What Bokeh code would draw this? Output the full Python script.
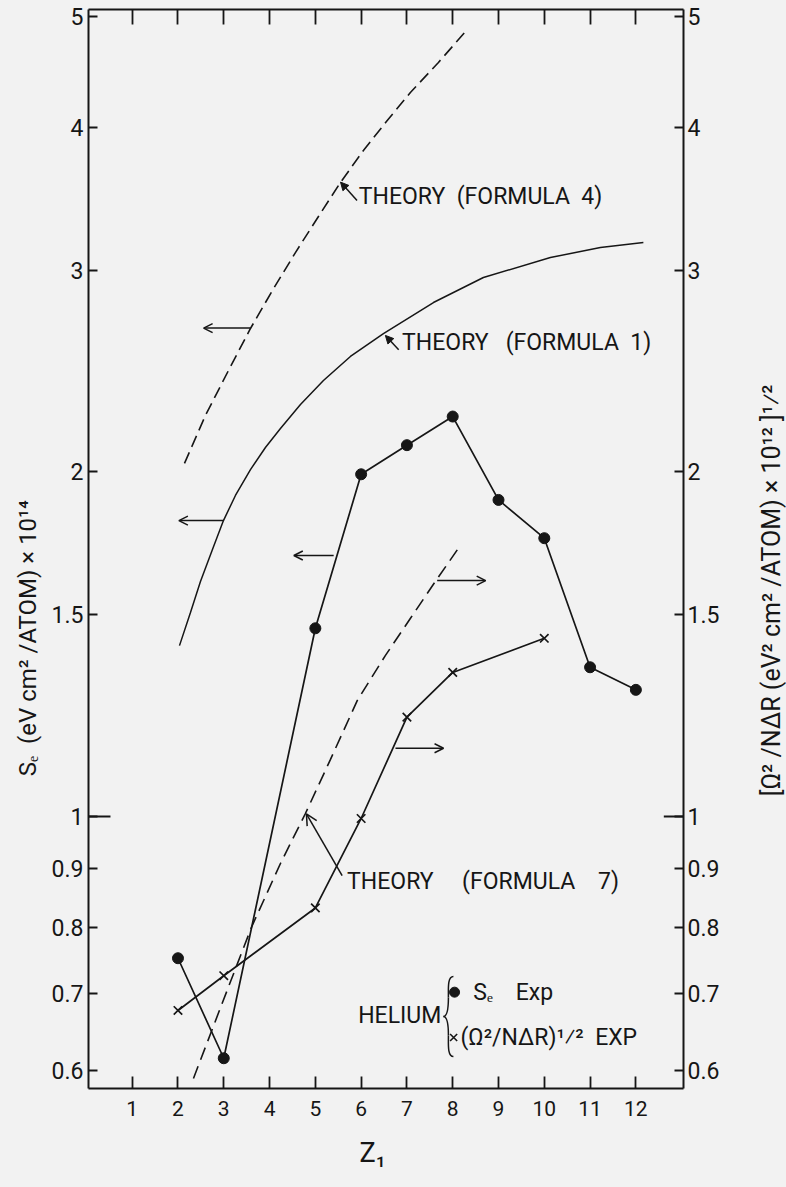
import math
from bokeh.plotting import figure
from bokeh.layouts import row
from bokeh.models import (Range1d, LinearAxis, LogAxis, FixedTicker, Label,
                          Arrow, OpenHead, NormalHead)
from bokeh.embed import file_html
from bokeh.resources import INLINE

FONT = "Roboto"
INK = "#161616"
BG = "#f2f2f2"
NB = "\u00a0"

# ---------------- data ----------------
z_se = [2, 3, 5, 6, 7, 8, 9, 10, 11, 12]
se_exp = [0.752, 0.615, 1.46, 1.99, 2.11, 2.235, 1.89, 1.75, 1.35, 1.29]

z_om = [2, 3, 5, 6, 7, 8, 10]
om_exp = [0.677, 0.726, 0.832, 0.996, 1.221, 1.336, 1.431]

# theory (formula 4), dashed
f4_z = [2.142, 2.600, 3.103, 3.583, 4.063, 4.565, 5.068, 5.548, 6.050, 6.552, 7.076, 7.688, 8.299]
f4_y = [2.034, 2.240, 2.452, 2.668, 2.880, 3.108, 3.342, 3.578, 3.816, 4.045, 4.288, 4.555, 4.857]

# theory (formula 1), solid
f1_z = [2.033, 2.273, 2.491, 2.753, 2.993, 3.255, 3.583, 3.910, 4.238, 4.675, 5.177,
        5.766, 6.487, 7.579, 8.670, 10.133, 11.225, 12.164]
f1_y = [1.410, 1.507, 1.604, 1.711, 1.813, 1.907, 2.009, 2.100, 2.182, 2.290, 2.403,
        2.522, 2.641, 2.811, 2.956, 3.077, 3.140, 3.171]

# theory (formula 7), dashed
f7_z = [2.338, 2.972, 3.603, 4.238, 4.783, 5.328, 5.917, 6.528, 7.074, 7.620, 8.166]
f7_y = [0.5905, 0.688, 0.800, 0.9098, 1.006, 1.121, 1.263, 1.382, 1.489, 1.604, 1.7245]

y_ticks = [0.6, 0.7, 0.8, 0.9, 1, 1.5, 2, 3, 4, 5]
y_tick_labels = ["0.6", "0.7", "0.8", "0.9", "1", "1.5", "2", "3", "4", "5"]
x_ticks = list(range(1, 13))

# ---------------- main figure ----------------
p = figure(frame_width=595, frame_height=1079,
           min_border_left=88, min_border_right=62,
           min_border_top=9, min_border_bottom=99,
           x_range=Range1d(0.046, 13.04), y_range=Range1d(0.5787, 5.067),
           y_axis_type="log", output_backend="svg", toolbar_location=None)
p.background_fill_color = BG
p.border_fill_color = BG
p.outline_line_color = None
p.xgrid.visible = False
p.ygrid.visible = False

overrides = {t: l for t, l in zip(y_ticks, y_tick_labels)}


def style_axis(ax, tick_len, font_size, standoff):
    ax.axis_line_color = INK
    ax.axis_line_width = 2
    ax.major_tick_line_color = INK
    ax.major_tick_line_width = 1.8
    ax.major_tick_in = tick_len
    ax.major_tick_out = 0
    ax.minor_tick_line_color = None
    ax.major_label_text_font = FONT
    ax.major_label_text_font_size = font_size
    ax.major_label_text_color = INK
    ax.major_label_standoff = standoff
    ax.axis_label_text_font = FONT
    ax.axis_label_text_font_style = "normal"
    ax.axis_label_text_color = INK


# left log axis
ly = p.yaxis[0]
ly.ticker = FixedTicker(ticks=y_ticks)
ly.major_label_overrides = overrides
style_axis(ly, 9, "23px", 5)
ly.axis_label = ("S\u2091" + NB * 2 + "(eV" + NB + "cm\u00b2" + NB + "/ATOM)" + NB
                 + "\u00d7" + NB + "10\u00b9\u2074" + NB * 30)
ly.axis_label_text_font_size = "24px"
ly.axis_label_standoff = 7

# right log axis (its title is drawn in the side strip)
ry = LogAxis(ticker=FixedTicker(ticks=y_ticks), major_label_overrides=overrides)
style_axis(ry, 9, "23px", 4)
p.add_layout(ry, "right")

# bottom axis
bx = p.xaxis[0]
bx.ticker = FixedTicker(ticks=x_ticks)
style_axis(bx, 12, "21px", 12)
bx.axis_label = "Z\u2081" + NB * 4
bx.axis_label_text_font_size = "27px"
bx.axis_label_standoff = 18

# top axis (ticks only)
tx = LinearAxis(ticker=FixedTicker(ticks=x_ticks))
style_axis(tx, 15, "0px", 0)
tx.major_label_text_alpha = 0
p.add_layout(tx, "above")

# longer ticks at 1 on both y axes
p.segment(x0=[0.046, 12.61], y0=[1, 1], x1=[0.526, 13.04], y1=[1, 1],
          line_color=INK, line_width=1.8)

# ---------------- curves ----------------
p.line(f4_z, f4_y, line_color=INK, line_width=1.6, line_dash="12 6")
p.line(f1_z, f1_y, line_color=INK, line_width=1.5)
p.line(f7_z, f7_y, line_color=INK, line_width=1.6, line_dash="13 7")

p.line(z_se, se_exp, line_color=INK, line_width=1.7)
p.scatter(z_se, se_exp, marker="circle", size=11, fill_color=INK, line_color=INK)

p.line(z_om, om_exp, line_color=INK, line_width=1.7)
p.scatter(z_om, om_exp, marker="x", size=12, line_color=INK, line_width=1.7)


# ---------------- arrows ----------------
def arrow(x0, y0, x1, y1, head="open", size=9):
    if head == "open":
        h = OpenHead(size=size, line_color=INK, line_width=1.5)
    else:
        h = NormalHead(size=size, fill_color=INK, line_color=INK, line_width=1)
    p.add_layout(Arrow(end=h, x_start=x0, y_start=y0, x_end=x1, y_end=y1,
                       line_color=INK, line_width=1.5))


arrow(3.58, 2.670, 2.56, 2.670)     # formula 4 -> left axis
arrow(3.00, 1.813, 2.02, 1.813)     # formula 1 -> left axis
arrow(5.40, 1.690, 4.53, 1.690)     # Se exp -> left axis
arrow(7.66, 1.607, 8.72, 1.607)     # formula 7 -> right axis
arrow(6.75, 1.147, 7.80, 1.147)     # Omega exp -> right axis
arrow(5.91, 3.451, 5.55, 3.581, head="normal", size=8)
arrow(6.82, 2.556, 6.53, 2.631, head="normal", size=8)
arrow(5.585, 0.8881, 4.805, 1.0054, head="open", size=11)


# ---------------- texts ----------------
def label(fig, x, y, text, size="23px", align="left", baseline="middle", angle=0):
    fig.add_layout(Label(x=x, y=y, text=text, text_font=FONT, text_font_size=size,
                         text_color=INK, text_align=align, text_baseline=baseline,
                         angle=angle))


label(p, 5.95, 3.479, "THEORY" + NB * 2 + "(FORMULA" + NB * 2 + "4)")
label(p, 6.895, 2.594, "THEORY" + NB * 3 + "(FORMULA" + NB * 2 + "1)")
label(p, 5.694, 0.8775, "THEORY" + NB * 5 + "(FORMULA" + NB * 4 + "7)")

# legend
p.scatter([8.04], [0.7024], marker="circle", size=10, fill_color=INK, line_color=INK)
label(p, 8.45, 0.7024, "S\u2091" + NB * 4 + "Exp")
p.scatter([8.02], [0.6412], marker="x", size=10, line_color=INK, line_width=1.6)
label(p, 8.17, 0.6412, "(\u03a9\u00b2/N\u0394R)\u00b9\u2044\u00b2" + NB * 2 + "EXP")
label(p, 7.75, 0.6702, "HELIUM", align="right")


# brace drawn with bezier curves (pixel offsets converted to data space)
def dx(px):
    return (px - 85.9) / 45.8


def dy(py):
    return math.exp((816 - py) / 497.3)


bx0 = [453, 448, 443, 448]
by0 = [976, 997, 1016, 1035]
bx1 = [448, 443, 448, 453]
by1 = [997, 1016, 1035, 1056]
bcx0 = [447, 448, 446, 448]
bcy0 = [976, 1012, 1016, 1044]
bcx1 = [448, 446, 448, 447]
bcy1 = [988, 1016, 1020, 1056]
p.bezier(x0=[dx(v) for v in bx0], y0=[dy(v) for v in by0],
         x1=[dx(v) for v in bx1], y1=[dy(v) for v in by1],
         cx0=[dx(v) for v in bcx0], cy0=[dy(v) for v in bcy0],
         cx1=[dx(v) for v in bcx1], cy1=[dy(v) for v in bcy1],
         line_color=INK, line_width=1.5)

# ---------------- right strip holding the right-hand axis title ----------------
side = figure(width=41, height=1187, x_range=Range1d(0, 41), y_range=Range1d(0, 1187),
              min_border_left=0, min_border_right=0, min_border_top=0, min_border_bottom=0,
              x_axis_type=None, y_axis_type=None, output_backend="svg", toolbar_location=None)
side.background_fill_color = BG
side.border_fill_color = BG
side.outline_line_color = None
side.xgrid.visible = False
side.ygrid.visible = False
label(side, 26, 548,
      "[\u03a9\u00b2" + NB + "/N\u0394R" + NB + "(eV\u00b2" + NB + "cm\u00b2" + NB + "/ATOM)" + NB
      + "\u00d7" + NB + "10\u00b9\u00b2" + NB + "]\u00b9\u2044\u00b2",
      size="25px", align="center", angle=math.pi / 2)

layout = row(p, side, spacing=0)
layout.background = BG

open("out.html", "w").write(file_html(layout, INLINE))
